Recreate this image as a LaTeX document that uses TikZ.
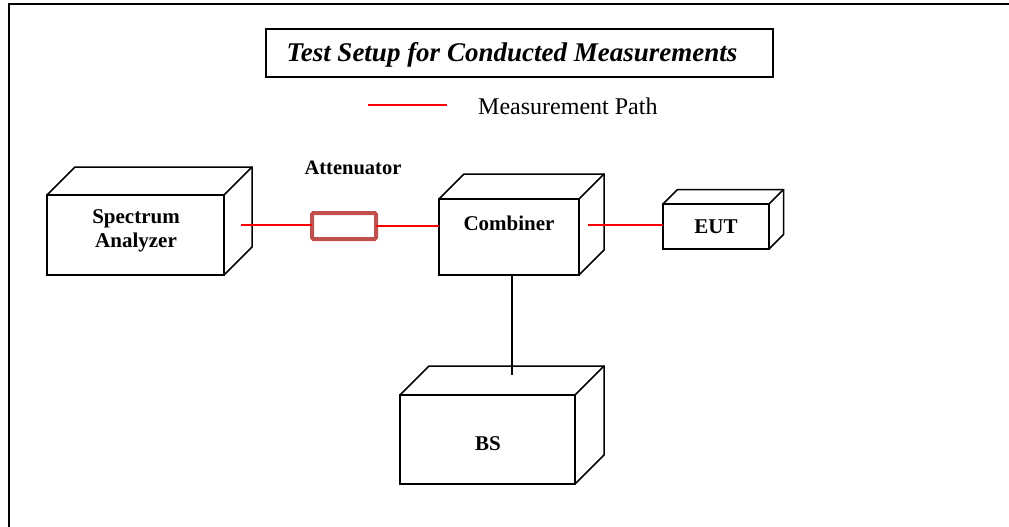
\documentclass[tikz,border=0pt]{standalone}
\usepackage{fontspec}
\setmainfont{Liberation Serif}
\usetikzlibrary{calc}
\definecolor{attred}{HTML}{C0504D}
\newcommand{\cubeside}[2]{%
  \draw[boxline] (#1.north west) -- ++(#2,-#2) -- ($(#1.north east)+(#2,-#2)$) -- ($(#1.south east)+(#2,-#2)$) -- (#1.south east);
  \draw[boxline] (#1.north east) -- ++(#2,-#2);}
\begin{document}
\begin{tikzpicture}[x=1pt,y=-1pt,
  frame/.style={line width=1.7pt,black},
  boxface/.style={draw,line width=1.5pt,rectangle,inner sep=0pt,outer sep=0pt},
  boxline/.style={line width=1.5pt,line join=miter},
  lbl/.style={font=\fontsize{21}{24}\selectfont\bfseries,align=center,inner sep=0pt},
  meas/.style={red,line width=1.4pt},
  ctrl/.style={black,line width=1.5pt},
  attbox/.style={draw=attred,line width=4pt,rounded corners=1.5pt,rectangle,inner sep=0pt,outer sep=0pt,minimum width=64pt,minimum height=26pt}]
\useasboundingbox (0,0) rectangle (1009,527);
% outer frame
\draw[frame] (9,527) -- (9,4) -- (1009,4);
% title
\node[boxface,line width=1.6pt,minimum width=507pt,minimum height=48pt] (titlebox) at (519.5,53) {};
\node[font=\fontsize{27}{29}\selectfont\bfseries\itshape,inner sep=0pt] (title) at (512,55) {Test Setup for Conducted Measurements};
% legend
\coordinate (lg1) at (368,105);
\coordinate (lg2) at (447,105);
\draw[meas] (lg1) -- (lg2);
\node[font=\fontsize{24}{26}\selectfont,anchor=west,inner sep=0pt] (legend) at (478,106) {Measurement Path};
% boxes
\node[boxface,minimum width=177pt,minimum height=80pt] (sa) at (135.5,235) {};
\cubeside{sa}{28}
\node[lbl] (satext) at (136,231) {Spectrum\\Analyzer};
\node[boxface,minimum width=140pt,minimum height=76pt] (comb) at (509,237) {};
\cubeside{comb}{25}
\node[lbl] (combtext) at (509,223) {Combiner};
\node[boxface,minimum width=106pt,minimum height=45pt] (eut) at (716,226.5) {};
\cubeside{eut}{14.5}
\node[lbl] (euttext) at (716,227) {EUT};
\node[boxface,minimum width=175pt,minimum height=89pt] (bs) at (487.5,439.5) {};
\cubeside{bs}{29}
\node[lbl] (bstext) at (488,444) {BS};
% attenuator
\node[attbox] (att) at (344,226) {};
\node[font=\fontsize{20.5}{23}\selectfont\bfseries,inner sep=0pt] (atttext) at (353,168) {Attenuator};
% connectors
\coordinate (saout) at (241,225);
\draw[meas] (saout) -- (saout -| att.west);
\draw[meas] (att.east) -- (att.east -| comb.west);
\coordinate (combout) at (588,225);
\draw[meas] (combout) -- (combout -| eut.west);
\coordinate (bsin) at (512,375);
\draw[ctrl] (comb.south -| bsin) -- (bsin);
\end{tikzpicture}
\end{document}
